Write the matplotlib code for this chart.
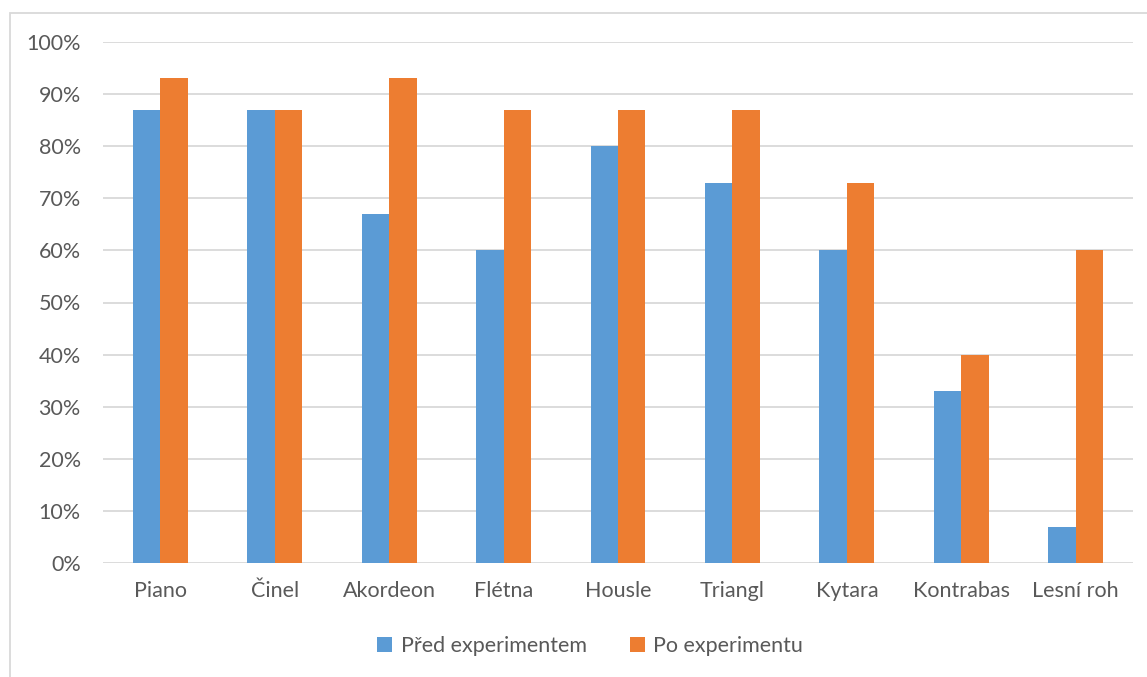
import matplotlib.pyplot as plt
from matplotlib.patches import Rectangle
from matplotlib.ticker import FuncFormatter
import numpy as np

plt.rcParams['font.family'] = ['Lato', 'DejaVu Sans']

nastroje = ['Piano', 'Činel', 'Akordeon', 'Flétna', 'Housle', 'Triangl',
            'Kytara', 'Kontrabas', 'Lesní roh']
pred = [87, 87, 67, 60, 80, 73, 60, 33, 7]
po = [93, 87, 93, 87, 87, 87, 73, 40, 60]

modra = '#5B9BD5'
oranzova = '#ED7D31'
seda_text = '#595959'
mrizka = '#D9D9D9'

fig = plt.figure(figsize=(11.47, 6.77), dpi=100)
ax = fig.add_axes([103 / 1147, 114 / 677, 1030 / 1147, 521 / 677])

x = np.arange(len(nastroje))
w = 0.24
ax.bar(x - w / 2, pred, w, color=modra, label='Před experimentem', zorder=3)
ax.bar(x + w / 2, po, w, color=oranzova, label='Po experimentu', zorder=3)

ax.set_xlim(-0.5, len(nastroje) - 0.5)
ax.set_ylim(0, 100)
ax.set_yticks(range(0, 101, 10))
ax.yaxis.set_major_formatter(FuncFormatter(lambda v, p: f'{v:.0f}%'))
ax.set_xticks(x)
ax.set_xticklabels(nastroje)

ax.grid(axis='y', color=mrizka, linewidth=1.3, zorder=0)
for s in ax.spines.values():
    s.set_visible(False)
ax.tick_params(length=0, labelsize=15.5, colors=seda_text)
ax.tick_params(axis='x', pad=13)
ax.tick_params(axis='y', pad=16)

# rámeček grafu
fig.patches.append(Rectangle((10 / 1147, -0.1), 1.2, (677 - 13) / 677 + 0.1,
                             transform=fig.transFigure, fill=False,
                             edgecolor='#D9D9D9', linewidth=1.3))

fig.legend(loc='center', bbox_to_anchor=(590 / 1147, 31 / 677), ncol=2,
           frameon=False, fontsize=15.5, labelcolor=seda_text,
           handlelength=0.7, handleheight=0.7, handletextpad=0.4,
           columnspacing=2.0)

fig.savefig('out.png', dpi=100)
